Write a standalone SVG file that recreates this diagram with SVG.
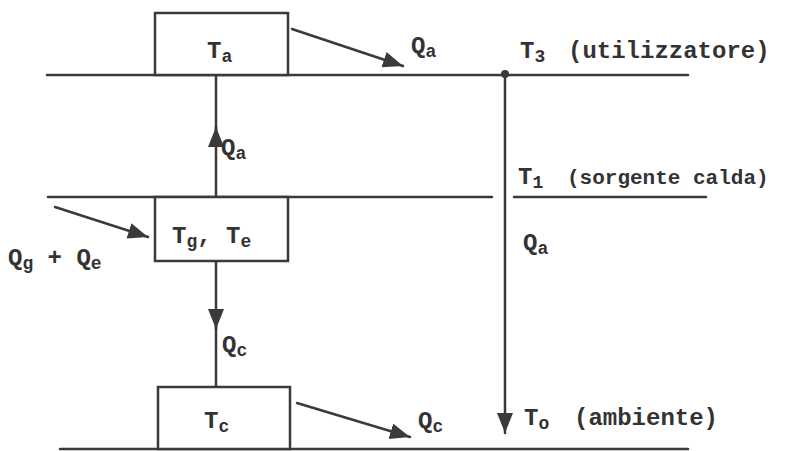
<svg xmlns="http://www.w3.org/2000/svg" width="806" height="451" viewBox="0 0 806 451">
<defs>
<style>
.ln{stroke:#3a3a3a;stroke-width:2.5;fill:none;stroke-linecap:round}
.bx{stroke:#3a3a3a;stroke-width:2.5;fill:#fff}
text{font-family:"Liberation Mono","Courier New",monospace;font-size:24px;fill:#333;font-weight:bold}
.sub{font-size:18px}
.sm{font-size:21px}
</style>
<marker id="ah" markerUnits="userSpaceOnUse" markerWidth="22" markerHeight="18" refX="20" refY="8" orient="auto" viewBox="0 0 22 18">
<path d="M0,0 L20,8 L0,16 z" fill="#3a3a3a"/>
</marker>
</defs>
<rect width="806" height="451" fill="#fff"/>
<g id="levels">
<line class="ln" x1="47" y1="75" x2="688" y2="75"/>
<line class="ln" x1="48" y1="197" x2="492" y2="197"/>
<line class="ln" x1="514" y1="197" x2="706" y2="197"/>
<line class="ln" x1="60" y1="449" x2="688" y2="449"/>
<circle cx="505" cy="74" r="4" fill="#3a3a3a"/>
</g>
<g id="connectors">
<line class="ln" x1="216" y1="197" x2="216" y2="127" marker-end="url(#ah)"/>
<line class="ln" x1="216" y1="130" x2="216" y2="75"/>
<line class="ln" x1="216" y1="262" x2="216" y2="329" marker-end="url(#ah)"/>
<line class="ln" x1="216" y1="326" x2="216" y2="387"/>
<line class="ln" x1="505" y1="74" x2="505" y2="433" marker-end="url(#ah)"/>
<line class="ln" x1="292" y1="29" x2="403" y2="66" marker-end="url(#ah)"/>
<line class="ln" x1="55" y1="207" x2="148" y2="237" marker-end="url(#ah)"/>
<line class="ln" x1="297" y1="403" x2="410" y2="437" marker-end="url(#ah)"/>
</g>
<g id="node-Ta">
<rect class="bx" x="155" y="13" width="133" height="62"/>
<text x="207" y="58">T<tspan class="sub" dy="4">a</tspan></text>
</g>
<g id="node-TgTe">
<rect class="bx" x="155" y="197" width="133" height="64"/>
<text x="172" y="243">T<tspan class="sub" dy="4">g</tspan><tspan dy="-4">, T</tspan><tspan class="sub" dy="4">e</tspan></text>
</g>
<g id="node-Tc">
<rect class="bx" x="158" y="387" width="132" height="62"/>
<text x="204" y="428">T<tspan class="sub" dy="4">c</tspan></text>
</g>
<g id="labels">
<text x="411" y="53">Q<tspan class="sub" dy="4">a</tspan></text>
<text x="520" y="58">T<tspan class="sub" dy="4">3</tspan></text>
<text x="568" y="58">(utilizzatore)</text>
<text x="518" y="184">T<tspan class="sub" dy="4">1</tspan></text>
<text class="sm" x="567" y="184">(sorgente calda)</text>
<text x="523" y="250">Q<tspan class="sub" dy="4">a</tspan></text>
<text x="221" y="155">Q<tspan class="sub" dy="4">a</tspan></text>
<text x="8" y="265">Q<tspan class="sub" dy="4">g</tspan><tspan dy="-4"> + Q</tspan><tspan class="sub" dy="4">e</tspan></text>
<text x="222" y="352">Q<tspan class="sub" dy="4">c</tspan></text>
<text x="418" y="428">Q<tspan class="sub" dy="4">c</tspan></text>
<text x="524" y="425">T<tspan class="sub" dy="4">o</tspan></text>
<text x="574" y="425">(ambiente)</text>
</g>
</svg>
